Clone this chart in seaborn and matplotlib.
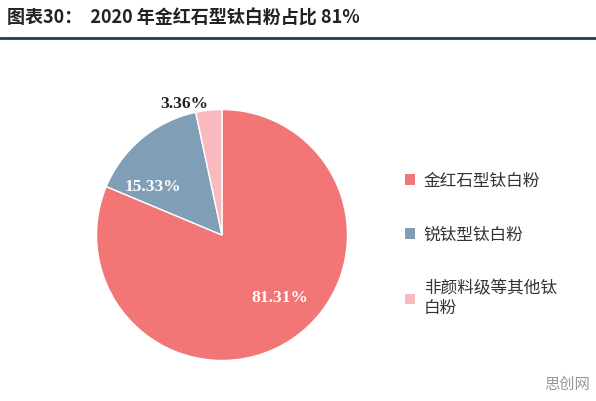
import matplotlib
matplotlib.use("Agg")
import matplotlib.pyplot as plt
from matplotlib.patches import Patch
import seaborn as sns

LABELS = ["金红石型钛白粉", "锐钛型钛白粉", "非颜料级等其他钛\n白粉"]
SHARES = [81.31, 15.33, 3.36]
COLORS = ["#F27676", "#809FB6", "#F9B9BD"]

sns.set_theme(style="white")
plt.rcParams["font.family"] = ["Noto Sans CJK SC", "DejaVu Sans"]

fig = plt.figure(figsize=(5.96, 4.01), dpi=100)
fig.patch.set_facecolor("white")

fig.text(0.012, 0.955, "图表30：  2020 年金红石型钛白粉占比 81%", fontsize=13,
         weight="bold", color="#222222", va="center")
fig.add_artist(plt.Line2D([0.0, 1.0], [0.905, 0.905], color="#1F3A60", lw=2))

# centre ~ (222, 235) px, radius ~ 125 px
ax = fig.add_axes([(222 - 128) / 596, (401 - 235 - 128) / 401, 256 / 596, 256 / 401])
wedges, texts = ax.pie(SHARES, colors=COLORS, startangle=90, counterclock=False,
                       wedgeprops=dict(edgecolor="white", linewidth=1))
ax.set_xlim(-1.02, 1.02)
ax.set_ylim(-1.02, 1.02)
ax.set_aspect("equal")

pct_pos = [(0.46, -0.5), (-0.55, 0.38), (-0.3, 1.04)]
pct_color = ["white", "white", "#222222"]
for val, (x, y), c in zip(SHARES, pct_pos, pct_color):
    ax.text(x, y, f"{val:.2f}%", ha="center", va="center", fontsize=12.5,
            weight="bold", color=c, family=["Liberation Serif", "DejaVu Serif"])

handles = [Patch(facecolor=c, edgecolor="none") for c in COLORS]
fig.legend(handles, LABELS, loc="center left", bbox_to_anchor=(0.655, 0.39),
           frameon=False, fontsize=12, handlelength=0.6, handleheight=0.6,
           labelspacing=2.2, handletextpad=0.5, labelcolor="#333333")

fig.text(0.99, 0.02, "思创网", fontsize=11, color="#999999", ha="right", va="bottom")

fig.savefig("out.png", dpi=100)
